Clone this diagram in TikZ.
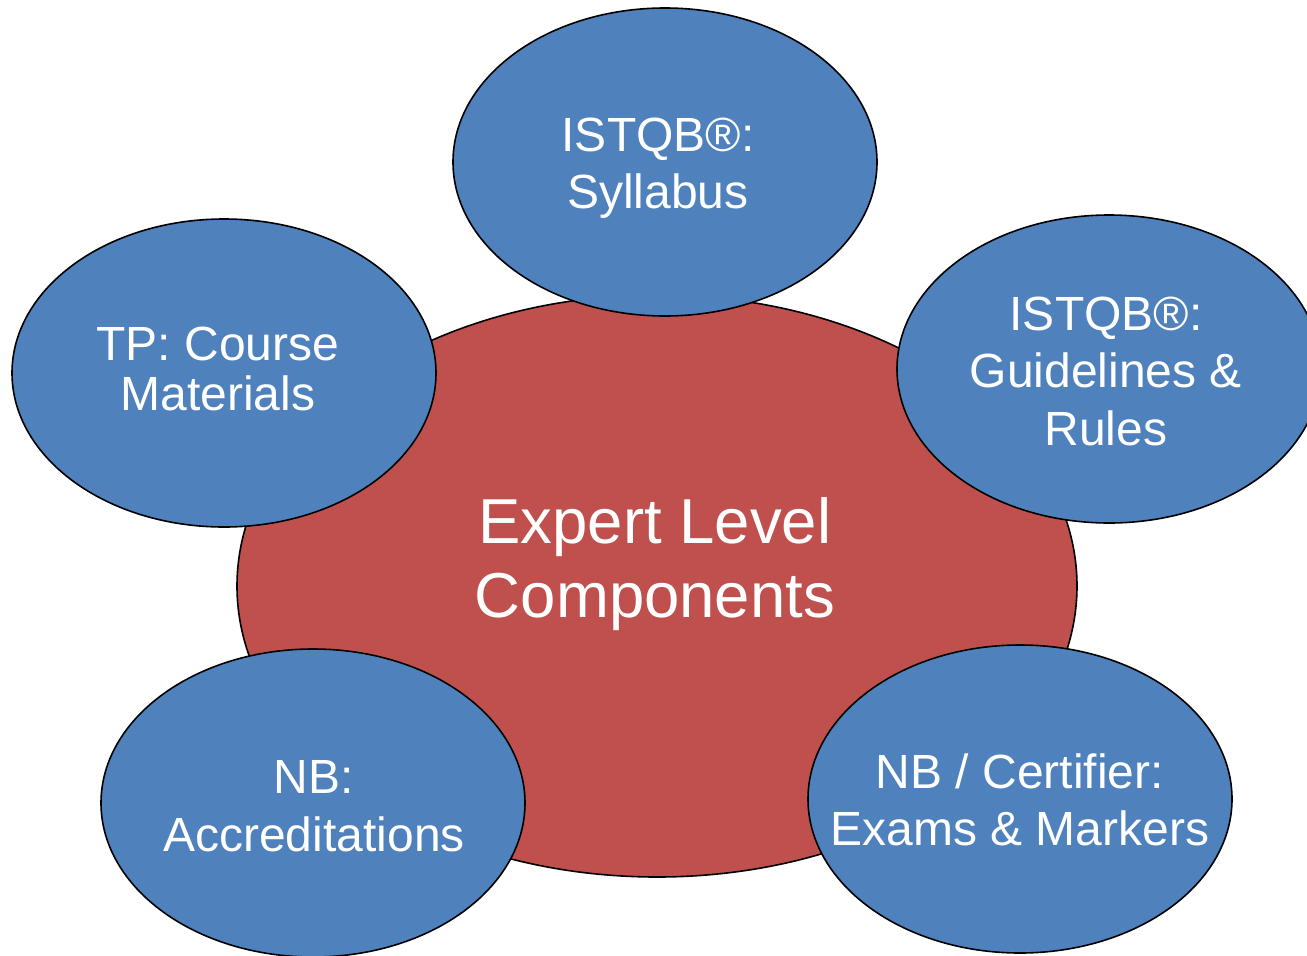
\documentclass[tikz,border=0pt]{standalone}
\usepackage{fontspec}
\setmainfont{Liberation Sans}
\usetikzlibrary{shapes.geometric}
\definecolor{blueA}{HTML}{4F81BD}
\definecolor{redA}{HTML}{C0504D}
\begin{document}
\begin{tikzpicture}[x=1pt,y=-1pt,
  bubble/.style={ellipse, draw=black, line width=1.6pt, fill=blueA, minimum width=424pt, minimum height=308pt, inner sep=0pt},
  core/.style={ellipse, draw=black, line width=1.6pt, fill=redA, minimum width=840pt, minimum height=582pt, inner sep=0pt},
  smalltxt/.style={text=white, align=center, inner sep=0pt, font=\fontsize{48}{57.5}\selectfont},
  tighttxt/.style={text=white, align=center, inner sep=0pt, font=\fontsize{48}{50}\selectfont},
  bigtxt/.style={text=white, align=center, inner sep=0pt, font=\fontsize{63.5}{74.5}\selectfont}]
\useasboundingbox (0,0) rectangle (1307,956);
\clip (0,0) rectangle (1307,956);
\node[core] (core) at (657,586) {};
\node[bubble] (top) at (665,162) {};
\node[bubble] (left) at (224,373) {};
\node[bubble] (right) at (1109,369) {};
\node[bubble] (bl) at (313,803) {};
\node[bubble] (br) at (1020,799) {};
\node[bigtxt] (coretxt) at (655,564) {Expert Level\\Components};
\node[smalltxt] (toptxt) at (658,168) {ISTQB®:\\Syllabus};
\node[tighttxt] (lefttxt) at (218,369) {TP: Course\\Materials};
\node[smalltxt] (righttxt) at (1106,371) {ISTQB®:\\Guidelines \&\\Rules};
\node[smalltxt] (bltxt) at (314,806) {NB:\\Accreditations};
\node[smalltxt] (brtxt) at (1020,800) {NB / Certifier:\\Exams \& Markers};
\end{tikzpicture}
\end{document}
